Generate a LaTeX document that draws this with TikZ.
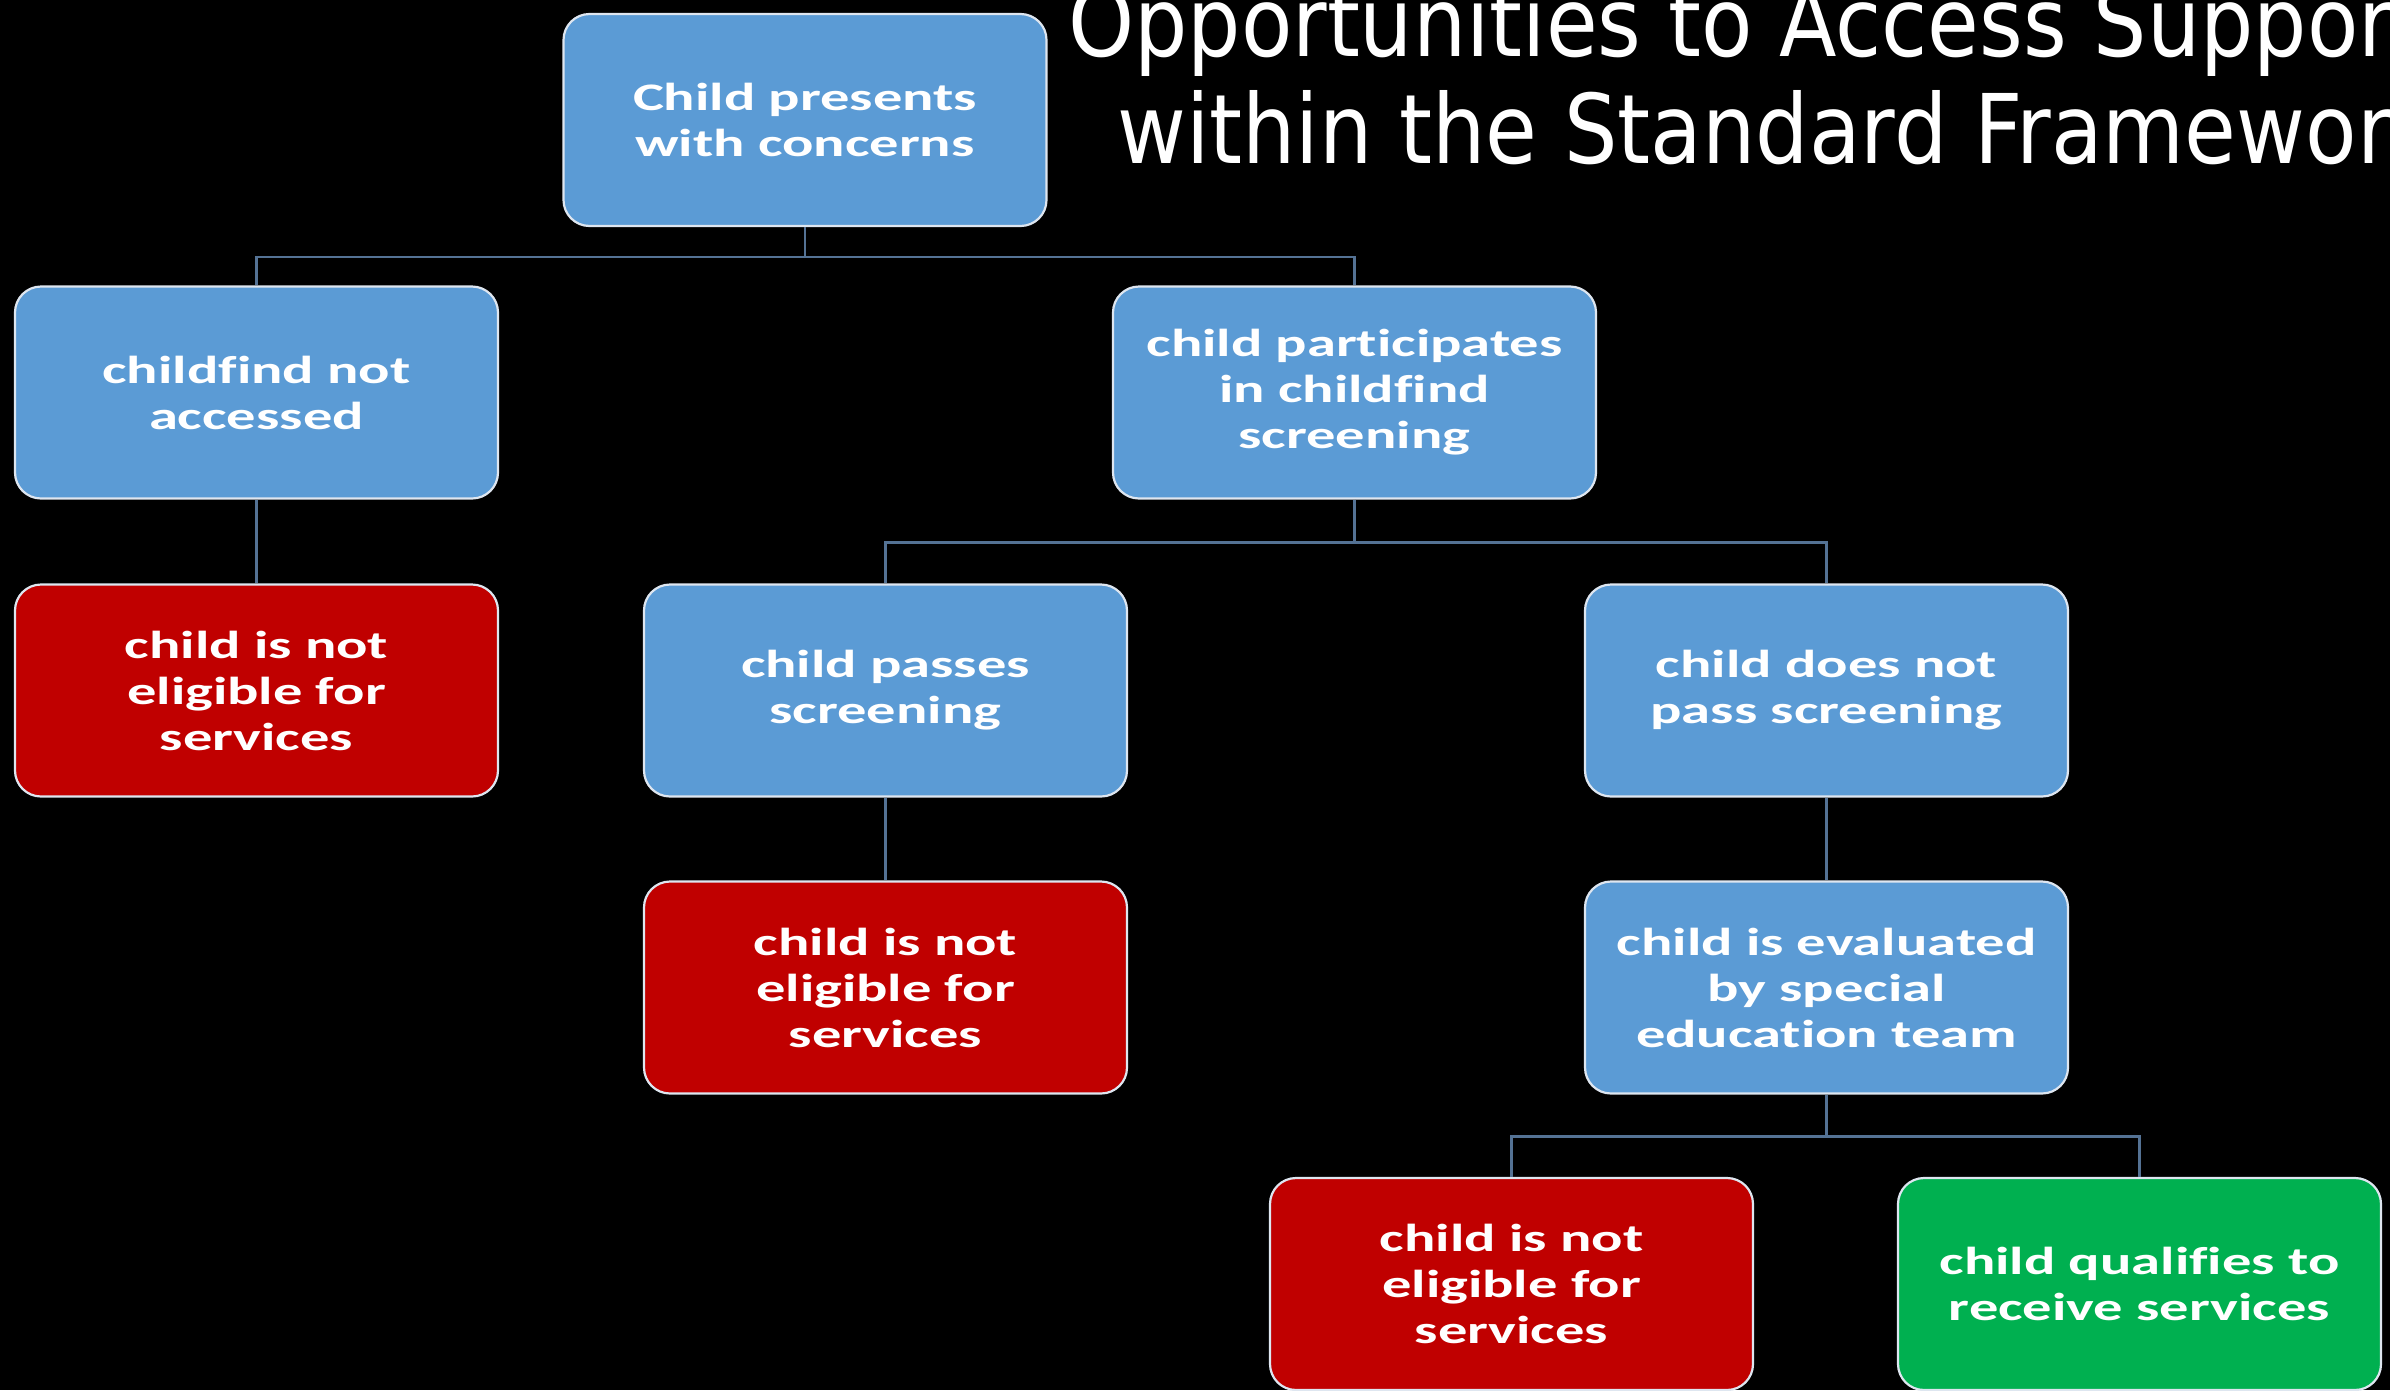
\documentclass[tikz,border=0pt]{standalone}
\usepackage{fontspec}
\usepackage{graphicx}
\newfontfamily\boxfont{Carlito}[FakeStretch=1.5, Ligatures={NoCommon,NoRare,NoContextual}]
\newfontfamily\titlefont{DejaVu Sans}
\definecolor{bluefill}{RGB}{91,155,213}
\definecolor{redfill}{RGB}{192,0,0}
\definecolor{greenfill}{RGB}{0,176,80}
\definecolor{boxline}{RGB}{222,230,240}
\definecolor{connline}{RGB}{84,114,148}
\tikzset{
  flowbox/.style={draw=boxline, line width=2.2pt, rounded corners=26pt,
    minimum width=483pt, minimum height=212pt, align=center, text=white,
    inner sep=0pt, font=\boxfont\bfseries\fontsize{39}{46}\selectfont},
  bluebox/.style={flowbox, fill=bluefill},
  redbox/.style={flowbox, fill=redfill},
  greenbox/.style={flowbox, fill=greenfill},
  conn/.style={draw=connline, line width=2.6pt},
  titletext/.style={anchor=base west, inner sep=0pt, text=white}
}
\begin{document}
\begin{tikzpicture}[x=1pt,y=-1pt]
\fill[black] (0,0) rectangle (2390,1390);
\useasboundingbox (0,0) rectangle (2390,1390);
\begin{scope}
\clip (0,0) rectangle (2390,1390);
\node[titletext] (t1) at (1068,56) {\resizebox{1357pt}{73pt}{\titlefont Opportunities to Access Support}};
\node[titletext] (t2) at (1117,163) {\resizebox{1323pt}{73pt}{\titlefont within the Standard Framework}};
\end{scope}
% nodes
\node[bluebox] (top) at (805,120) {Child presents\\with concerns};
\node[bluebox] (cf) at (256.5,392.5) {childfind not\\accessed};
\node[bluebox] (pc) at (1354.5,392.5) {child participates\\in childfind\\screening};
\node[redbox] (ne1) at (256.5,690.5) {child is not\\eligible for\\services};
\node[bluebox] (ps) at (885.5,690.5) {child passes\\screening};
\node[bluebox] (np) at (1826.5,690.5) {child does not\\pass screening};
\node[redbox] (ne2) at (885.5,987.5) {child is not\\eligible for\\services};
\node[bluebox] (ev) at (1826.5,987.5) {child is evaluated\\by special\\education team};
\node[redbox] (ne3) at (1511.5,1284) {child is not\\eligible for\\services};
\node[greenbox] (qu) at (2139.5,1284) {child qualifies to\\receive services};
% connectors
\draw[conn] (top.south) -- ++(0,30) -| (cf.north);
\draw[conn] (top.south) -- ++(0,30) -| (pc.north);
\draw[conn] (cf.south) -- (ne1.north);
\draw[conn] (pc.south) -- ++(0,43) -| (ps.north);
\draw[conn] (pc.south) -- ++(0,43) -| (np.north);
\draw[conn] (ps.south) -- (ne2.north);
\draw[conn] (np.south) -- (ev.north);
\draw[conn] (ev.south) -- ++(0,42) -| (ne3.north);
\draw[conn] (ev.south) -- ++(0,42) -| (qu.north);
\end{tikzpicture}
\end{document}
